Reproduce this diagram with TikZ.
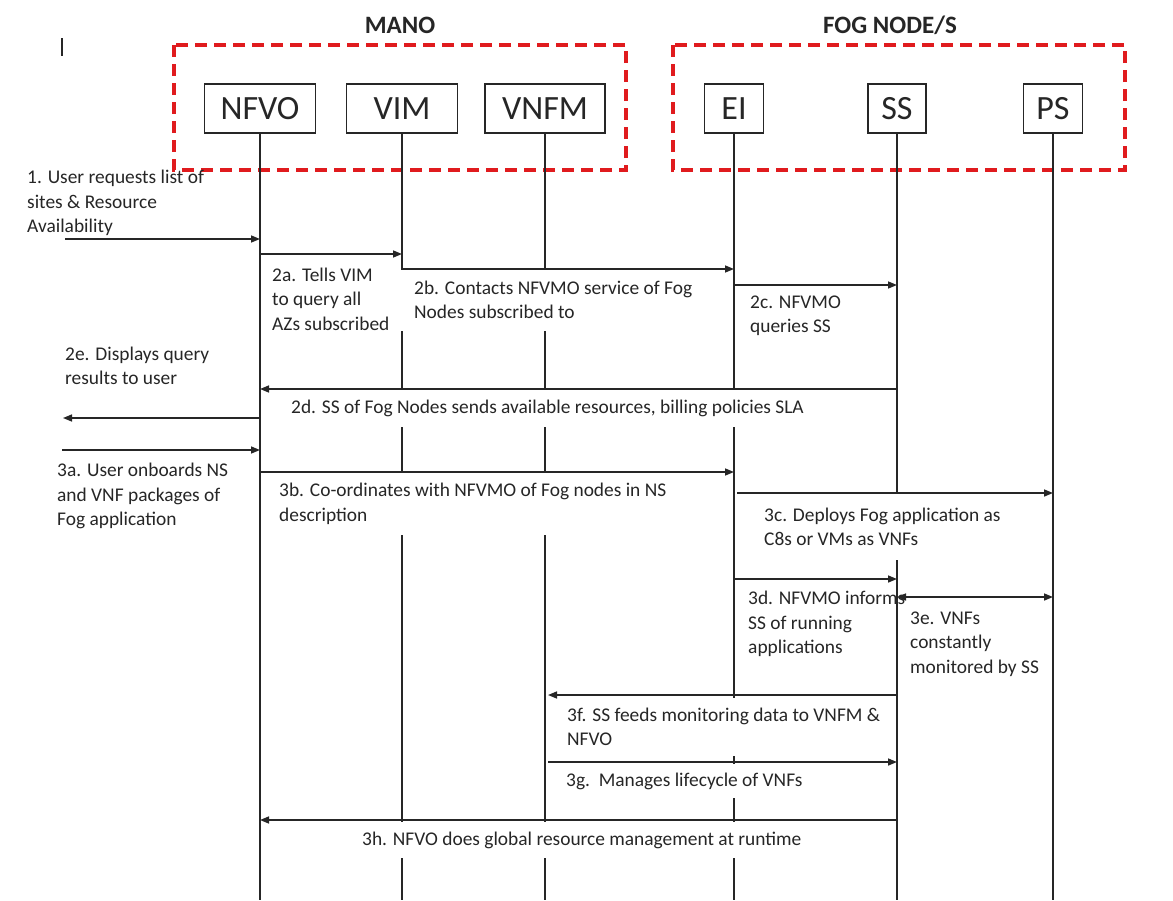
\documentclass[tikz,border=0pt]{standalone}
\usepackage{fontspec}
\setmainfont{Carlito}
\usetikzlibrary{arrows.meta}
\definecolor{ink}{HTML}{262626}
\definecolor{framered}{HTML}{E01B1E}
\begin{document}
\begin{tikzpicture}[x=1pt,y=-1pt,
  head/.style={draw=ink, line width=1.5pt, fill=white, minimum height=49pt,
    inner sep=0pt, font=\fontsize{34}{40}\selectfont, text=ink},
  title/.style={font=\bfseries\fontsize{25}{30}\selectfont, text=ink},
  frame/.style={draw=framered, line width=3.5pt, dash pattern=on 12pt off 7pt},
  life/.style={draw=ink, line width=1.4pt},
  msg/.style={font=\fontsize{19.4}{24.5}\selectfont, text=ink, align=left,
    anchor=west, inner sep=0pt},
  masked/.style={fill=white, inner ysep=0pt},
  call/.style={draw=ink, line width=1.5pt, -{Triangle[length=9pt,width=7pt]}},
  twoway/.style={draw=ink, line width=1.5pt,
    {Triangle[length=9pt,width=7pt]}-{Triangle[length=9pt,width=7pt]}}]

\useasboundingbox[fill=white] (0,0) rectangle (1173,900);

% group titles and frames
\node[title] (manoT) at (400,25) {MANO};
\node[title] (fogT) at (890,25) {FOG NODE/S};
\draw[frame] (174,45) rectangle (626,170);
\draw[frame] (673,45) rectangle (1125,170);

% stray text cursor
\draw[ink, line width=1.2pt] (62,38) -- (62,56);

% participants
\node[head, minimum width=111pt] (NFVO) at (260,108.5) {NFVO};
\node[head, minimum width=111pt] (VIM)  at (402,108.5) {VIM};
\node[head, minimum width=120pt] (VNFM) at (545,108.5) {VNFM};
\node[head, minimum width=59pt]  (EI)   at (734,108.5) {EI};
\node[head, minimum width=58pt]  (SS)   at (897,108.5) {SS};
\node[head, minimum width=59pt]  (PS)   at (1053,108.5) {PS};

% lifelines
\coordinate (bot) at (0,900);
\foreach \p in {NFVO,VIM,VNFM,EI,SS,PS}
  \draw[life] (\p.south) -- (\p |- bot);

% message labels
\node[msg] (t1) at (27,203) {1. User requests list of\\sites \& Resource\\Availability};
\node[msg] (t2a) at (272,299) {2a. Tells VIM\\to query all\\AZs subscribed};
\node[msg, masked, inner xsep=14pt, minimum height=61pt] (t2b) at (400,300)
  {2b. Contacts NFVMO service of Fog\\Nodes subscribed to};
\node[msg] (t2c) at (750,316) {2c. NFVMO\\queries SS};
\node[msg, masked, inner xsep=11pt, minimum height=37pt] (t2d) at (280,408.5)
  {2d. SS of Fog Nodes sends available resources, billing policies SLA};
\node[msg] (t2e) at (65,366) {2e. Displays query\\results to user};
\node[msg] (t3a) at (57,496) {3a. User onboards NS\\and VNF packages of\\Fog application};
\node[msg, masked, inner xsep=9pt, minimum height=62pt] (t3b) at (270,504)
  {3b. Co-ordinates with NFVMO of Fog nodes in NS\\description};
\node[msg, masked, inner xsep=14pt, minimum height=66pt] (t3c) at (750,527)
  {3c. Deploys Fog application as\\C8s or VMs as VNFs};
\node[msg] (t3d) at (748,624) {3d. NFVMO informs\\SS of running\\applications};
\node[msg] (t3e) at (910,644) {3e. VNFs\\constantly\\monitored by SS};
\node[msg, masked, inner xsep=8pt, minimum height=58pt] (t3f) at (559,727)
  {3f. SS feeds monitoring data to VNFM \&\\NFVO};
\node[msg, masked, inner xsep=8pt, minimum height=34pt] (t3g) at (558,781)
  {3g.\ \ Manages lifecycle of VNFs};
\node[msg, masked, inner xsep=10pt, minimum height=36pt] (t3h) at (352,840)
  {3h. NFVO does global resource management at runtime};

% free ends of the user-facing messages
\coordinate (u1) at (65,239);
\coordinate (u2e) at (63,418);
\coordinate (u3a) at (62,450);

% messages
\draw[call] (u1) -- (NFVO |- u1);
\draw[call] (NFVO |- 0,254) -- (VIM |- 0,254);
\draw[call] (VIM |- 0,269) -- (EI |- 0,269);
\draw[call] (EI |- 0,285) -- (SS |- 0,285);
\draw[call] (SS |- 0,389) -- (NFVO |- 0,389);
\draw[call] (NFVO |- u2e) -- (u2e);
\draw[call] (u3a) -- (NFVO |- u3a);
\draw[call] (NFVO |- 0,472) -- (EI |- 0,472);
\draw[call] ([xshift=3pt]EI |- 0,493) -- (PS |- 0,493);
\draw[call] (EI |- 0,579) -- (SS |- 0,579);
\draw[twoway] (SS |- 0,597) -- (PS |- 0,597);
\draw[call] (SS |- 0,695) -- ([xshift=3pt]VNFM |- 0,695);
\draw[call] ([xshift=3pt]VNFM |- 0,762) -- (SS |- 0,762);
\draw[call] (SS |- 0,820) -- (NFVO |- 0,820);
\end{tikzpicture}
\end{document}
